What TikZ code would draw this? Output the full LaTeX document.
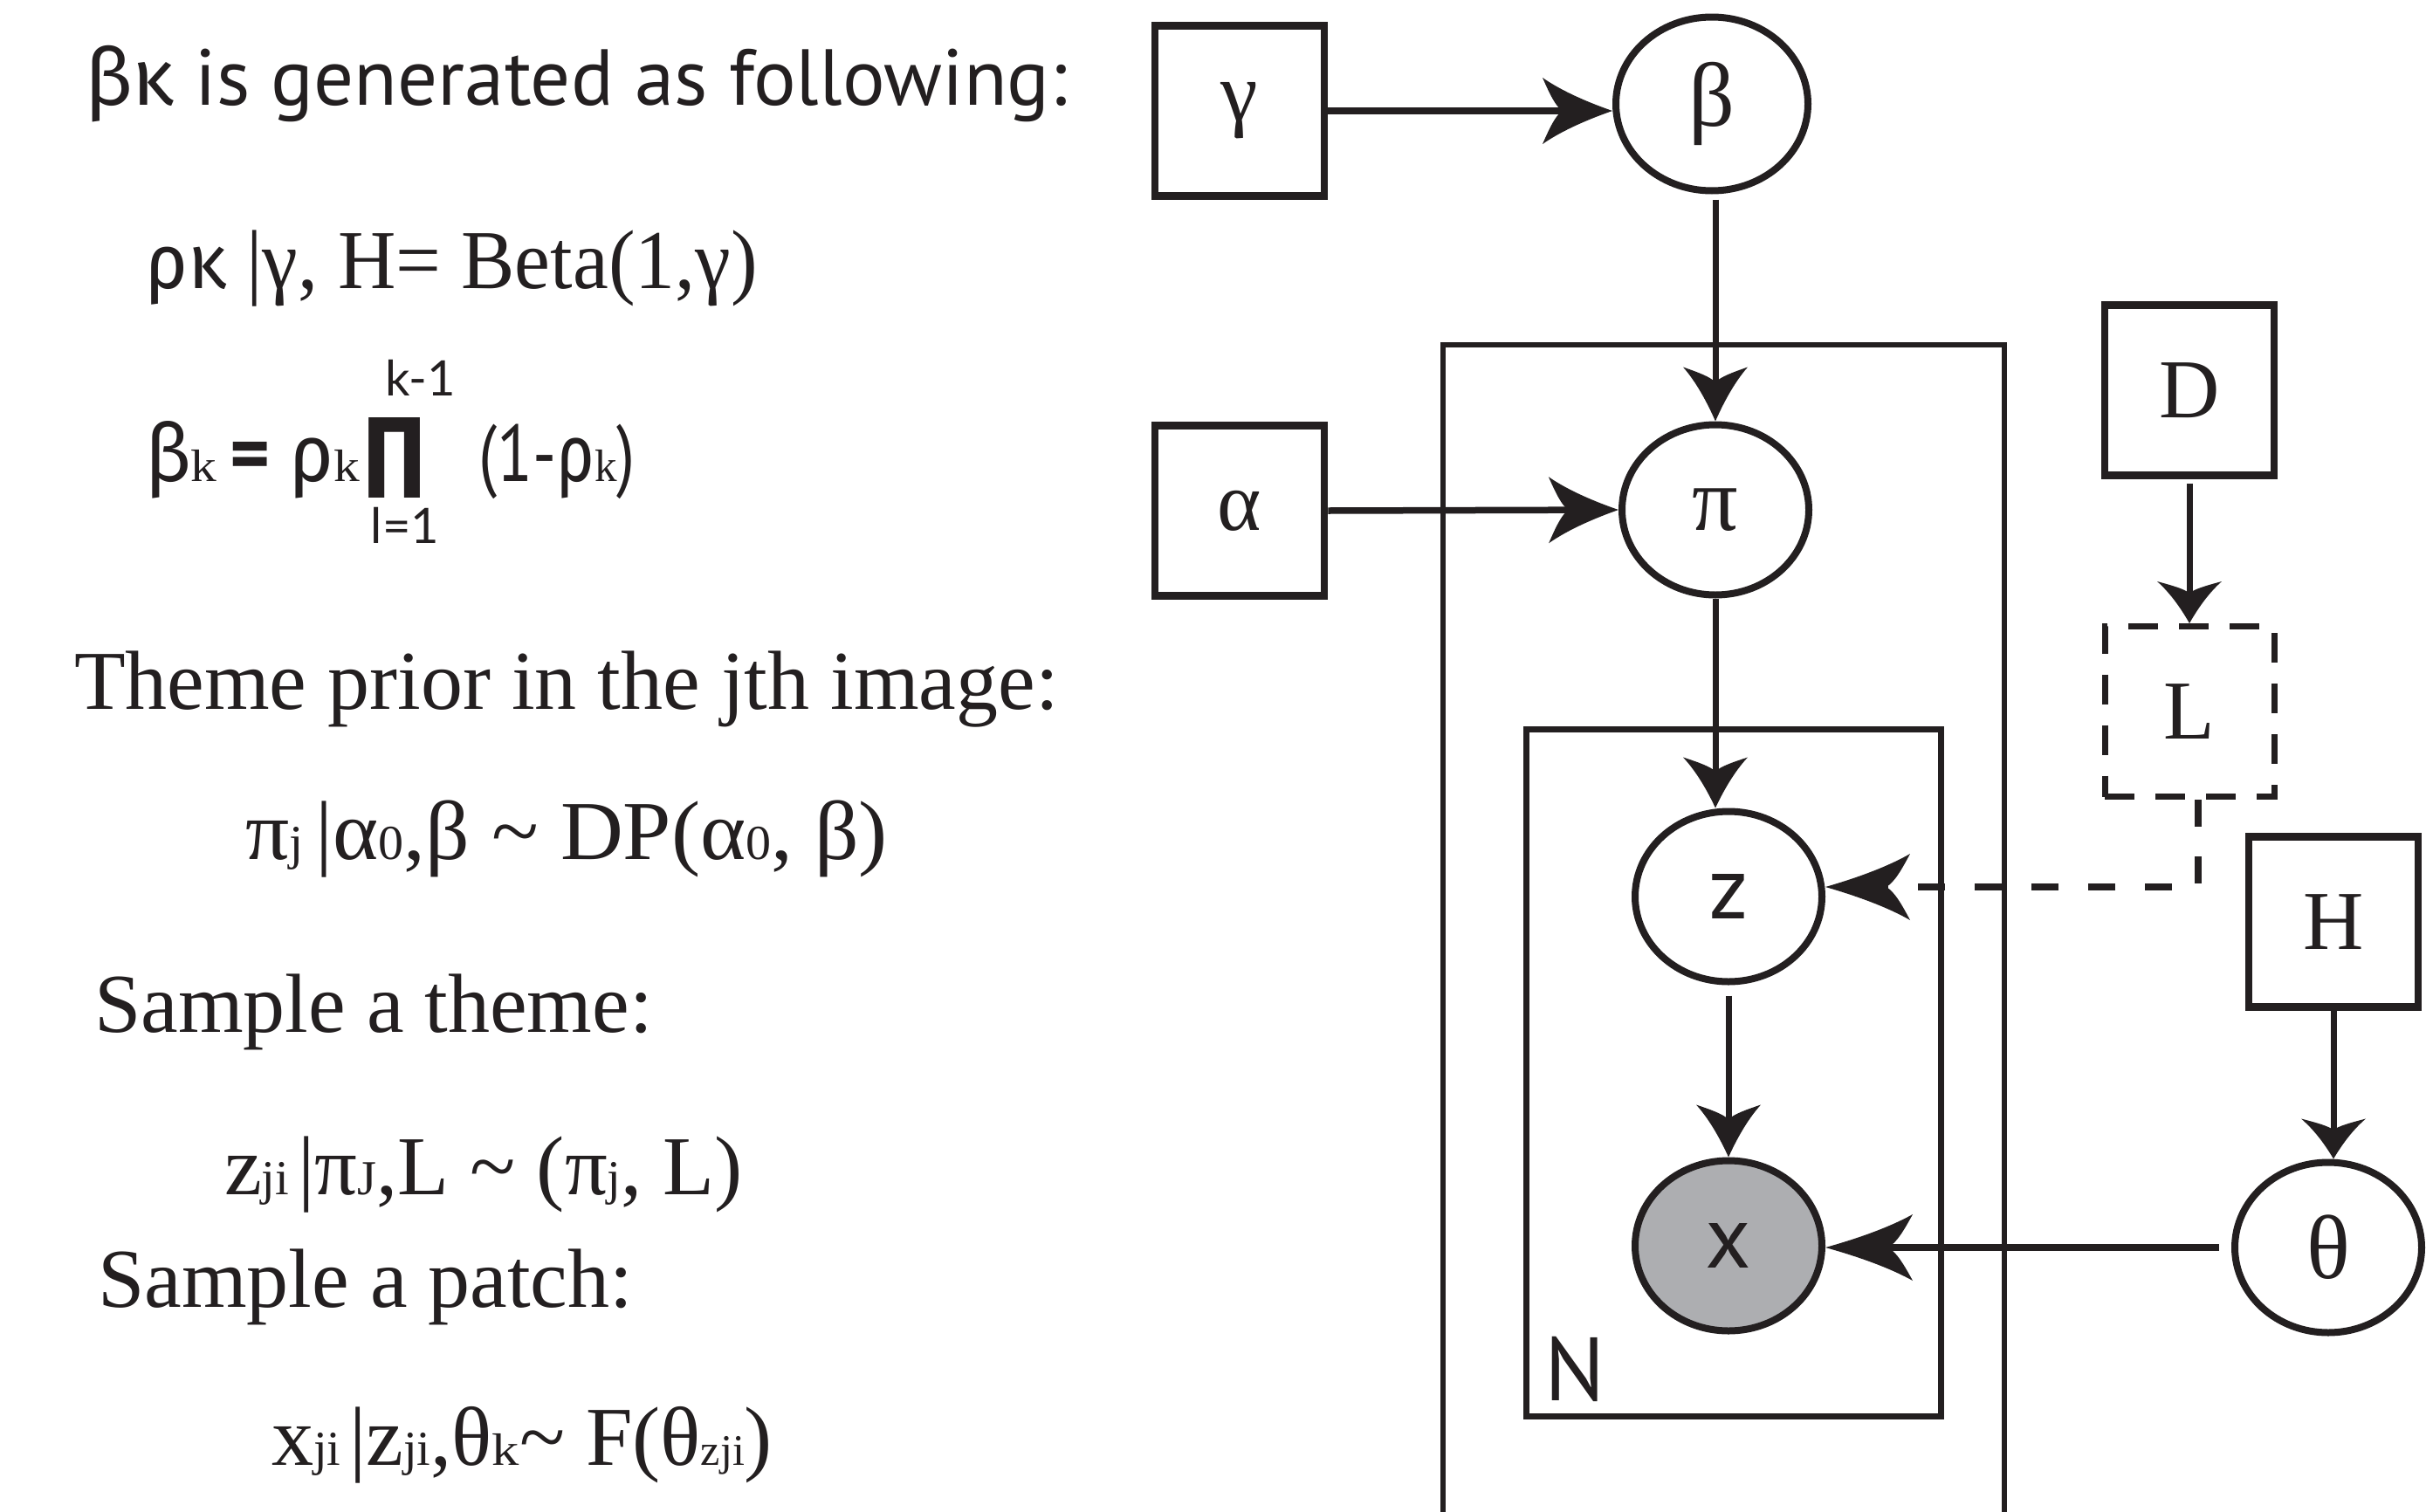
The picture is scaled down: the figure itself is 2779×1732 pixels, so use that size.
\documentclass[tikz,border=0pt]{standalone}
\usepackage{graphicx}
\usepackage{fontspec}
\setmainfont{Liberation Serif}
\newfontfamily\latinsans{PT Sans}
\newfontfamily\greeksans{Fira Sans}
\newfontfamily\limitsans{Lato}
\usetikzlibrary{arrows.meta,shapes.geometric}
\definecolor{ink}{RGB}{35,31,32}
\definecolor{observed}{RGB}{173,174,177}
% font size in points, used as picture pixels
\newcommand\fsz[1]{\fontsize{#1pt}{#1pt}\selectfont}
\newcommand\lsub[1]{{\rmfamily\fsz{56}#1}}
\newcommand\ksub[1]{{\rmfamily\fsz{52}\scalebox{1.2}[1]{#1}}}
% set a line of text to a given width, keeping its height
\newcommand\fitto[2]{\resizebox{#1}{\height}{#2}}

% arrow head with concave, swept-back barbs
\pgfdeclarearrow{
  name = Barb,
  parameters = {\the\pgfarrowlength,\the\pgfarrowwidth},
  setup code = {
    \pgfarrowssettipend{0pt}
    \pgfarrowssetlineend{-.5\pgfarrowlength}
    \pgfarrowssetbackend{-\pgfarrowlength}
    \pgfarrowshullpoint{0pt}{0pt}
    \pgfarrowshullpoint{-\pgfarrowlength}{.5\pgfarrowwidth}
    \pgfarrowshullpoint{-\pgfarrowlength}{-.5\pgfarrowwidth}
    \pgfarrowssavethe\pgfarrowlength
    \pgfarrowssavethe\pgfarrowwidth
  },
  drawing code = {
    \pgfpathmoveto{\pgfpointorigin}
    \pgfpathcurveto
      {\pgfpoint{-.3\pgfarrowlength}{.11\pgfarrowwidth}}
      {\pgfpoint{-.7\pgfarrowlength}{.28\pgfarrowwidth}}
      {\pgfpoint{-\pgfarrowlength}{.5\pgfarrowwidth}}
    \pgfpathcurveto
      {\pgfpoint{-.9\pgfarrowlength}{.26\pgfarrowwidth}}
      {\pgfpoint{-.82\pgfarrowlength}{.08\pgfarrowwidth}}
      {\pgfpoint{-.72\pgfarrowlength}{0pt}}
    \pgfpathcurveto
      {\pgfpoint{-.82\pgfarrowlength}{-.08\pgfarrowwidth}}
      {\pgfpoint{-.9\pgfarrowlength}{-.26\pgfarrowwidth}}
      {\pgfpoint{-\pgfarrowlength}{-.5\pgfarrowwidth}}
    \pgfpathcurveto
      {\pgfpoint{-.7\pgfarrowlength}{-.28\pgfarrowwidth}}
      {\pgfpoint{-.3\pgfarrowlength}{-.11\pgfarrowwidth}}
      {\pgfpointorigin}
    \pgfpathclose
    \pgfusepathqfill
  },
  defaults = {length = 10pt, width = 8pt}
}

\tikzset{
  txt/.style={anchor=base west, inner sep=0pt, outer sep=0pt, text=ink, font=\fsz{96}},
  sanstxt/.style={txt, font=\latinsans\fsz{91}},
  param/.style={draw=ink, line width=8.5pt, rectangle, minimum width=194pt,
    minimum height=195pt, inner sep=0pt, text=ink, font=\fsz{96}},
  latent/.style={draw=ink, line width=8pt, ellipse, minimum width=214pt,
    minimum height=195pt, inner sep=0pt, text=ink, fill=white, font=\fsz{104}},
  sanslabel/.style={font=\latinsans\fsz{102}},
  plate/.style={draw=ink, line width=6.5pt},
  link/.style={draw=ink, line width=7pt},
  head/.style 2 args={-{Barb[length=#1pt,width=#2pt]}},
}
\begin{document}
\begin{tikzpicture}[x=1pt,y=-1pt]
\useasboundingbox[fill=white] (0,0) rectangle (2779,1732);

% ---- generative process ----
\node[sanstxt] (l1) at (97,120) {{\greeksans βκ} is generated as following:};
\node[txt] (l2) at (166,330) {\fitto{702pt}{{\greeksans\fsz{88}ρκ}\hspace{24pt}|γ, H= Beta(1,γ)}};

\node[txt, font=\greeksans\fsz{92}] (l3a) at (166,551)
  {\fitto{246pt}{β\ksub{k}\hspace{16pt}{\latinsans\bfseries=}\hspace{22pt}ρ\ksub{k}}};
\node[inner sep=0pt, text=ink] (prod) at (452,524) {\resizebox{73pt}{92pt}{\greeksans\bfseries Π}};
\node[txt, font=\latinsans\fsz{92}] (l3b) at (548,551) {\fitto{180pt}{(1-{\greeksans ρ}\ksub{k})}};
\node[anchor=base, inner sep=0pt, text=ink, font=\limitsans\fsz{56}] (upper) at (482,453) {k-1};
\node[anchor=base, inner sep=0pt, text=ink, font=\limitsans\fsz{56}] (lower) at (464,622) {l=1};

\node[txt] (l4) at (85,812) {Theme prior in the jth image:};
\node[txt] (l5) at (281,984) {\fitto{736pt}{π\lsub{j}\hspace{14pt}|α\lsub{0},β \textasciitilde{} DP(α\lsub{0}, β)}};
\node[txt] (l6) at (108,1182) {Sample a theme:};
\node[txt] (l7) at (257,1368) {\fitto{594pt}{z\lsub{ji}\hspace{10pt}|π\lsub{J},L \textasciitilde{} (π\lsub{j}, L)}};
\node[txt] (l8) at (112,1497) {Sample a patch:};
\node[txt] (l9) at (311,1678) {\fitto{574pt}{x\lsub{ji}\hspace{10pt}|z\lsub{ji},θ\ksub{k}\textasciitilde{} F(θ{\fsz{50}zji})}};

% ---- plates ----
\draw[plate] (1653,1760) |- (2296,395) -- (2296,1760);
\draw[plate, line width=7pt] (1748,835) rectangle (2223,1622);
\node[anchor=base west, inner sep=0pt, text=ink, font=\latinsans\fsz{103}] (nlabel) at (1769,1604) {N};

% ---- variables ----
\node[param] (gamma) at (1420,127) {γ};
\node[param] (alpha) at (1420,585) {α};
\node[latent, minimum width=220pt, minimum height=199pt] (beta) at (1961,119) {β};
\node[latent] (pi) at (1965,584) {π};
\node[latent, sanslabel] (z) at (1980,1027) {z};
\node[latent, sanslabel, fill=observed] (x) at (1980,1427) {x};
\node[param] (D) at (2508,447) {D};
\node[param, line width=7pt, dash pattern=on 34pt off 24pt] (L) at (2508,815) {L};
\node[param] (H) at (2673,1056) {H};
\node[latent] (theta) at (2667,1429) {θ};

% ---- dependencies ----
\draw[link, line width=7.5pt, head={80}{76}] (gamma.east) -- (gamma.east -| beta.west);
\draw[link, line width=7.5pt, head={80}{76}] (alpha.east) -- (pi.west);
\draw[link, head={62}{74}, shorten <=6pt] (beta.south -| pi.north) -- (pi.north);
\draw[link, head={58}{74}] (pi.south) -- (pi.south |- z.north);
\draw[link, head={60}{74}, shorten <=12pt] (z.south) -- (x.north);
\draw[link, head={48}{74}, shorten <=5pt] (D.south) -- (L.north);
\draw[link, head={46}{74}] (H.south) -- (H.south |- theta.north);
\draw[link, line width=7.5pt, head={100}{76}, shorten <=14pt] (theta.west) -- (theta.west -| x.east);
\draw[link, line width=7.5pt, dash pattern=on 31pt off 34pt, head={97}{76}]
  ([xshift=10pt]L.south) |- ([yshift=11pt]z.east);
\end{tikzpicture}
\end{document}
